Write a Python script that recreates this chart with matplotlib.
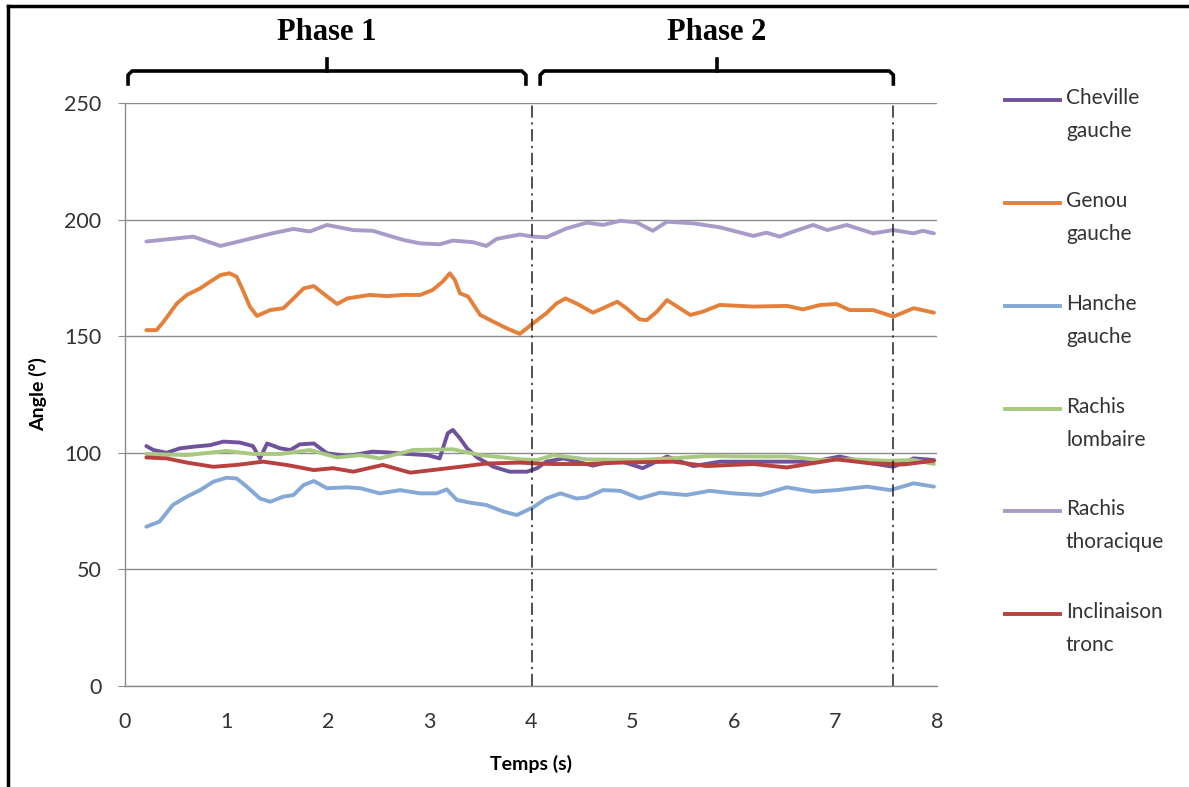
import matplotlib.pyplot as plt
from matplotlib.lines import Line2D
from matplotlib.transforms import blended_transform_factory

# --- data (time in s, angle in degrees) ---
t_cheville = [0.21, 0.28, 0.41, 0.54, 0.67, 0.84, 0.97, 1.13, 1.26, 1.33, 1.40, 1.53, 1.63, 1.72,
              1.86, 1.99, 2.19, 2.44, 2.58, 2.78, 2.98, 3.10, 3.18, 3.23, 3.30, 3.37, 3.47, 3.63,
              3.79, 3.96, 4.06, 4.15, 4.32, 4.61, 4.85, 5.10, 5.34, 5.60, 5.86, 6.19, 6.52, 6.78,
              7.04, 7.31, 7.57, 7.77, 7.97]
cheville = [102.9, 101.2, 100.0, 101.9, 102.6, 103.3, 104.8, 104.4, 102.9, 97.6, 104.0, 101.9, 101.2, 103.6,
            104.0, 99.8, 98.6, 100.5, 100.2, 99.5, 99.0, 97.6, 108.4, 109.8, 106.2, 101.9, 98.0, 94.0,
            91.9, 91.9, 93.4, 96.2, 97.6, 94.5, 96.9, 93.4, 98.4, 94.3, 96.2, 96.2, 96.2, 96.2,
            98.4, 95.8, 94.0, 97.6, 96.9]

t_genou = [0.21, 0.31, 0.38, 0.51, 0.61, 0.74, 0.84, 0.94, 1.03, 1.10, 1.16, 1.23, 1.30, 1.43, 1.56,
           1.66, 1.76, 1.86, 1.95, 2.09, 2.19, 2.41, 2.58, 2.74, 2.91, 3.03, 3.13, 3.20, 3.25, 3.30,
           3.38, 3.50, 3.63, 3.76, 3.89, 4.02, 4.15, 4.25, 4.34, 4.45, 4.61, 4.71, 4.85, 4.94, 5.07,
           5.14, 5.24, 5.34, 5.44, 5.57, 5.69, 5.86, 6.19, 6.52, 6.68, 6.85, 7.01, 7.14, 7.37, 7.57,
           7.77, 7.97]
genou = [152.6, 152.6, 156.2, 164.0, 167.7, 170.5, 173.4, 176.2, 177.0, 175.5, 169.8, 162.7, 158.7, 161.2, 162.0,
         166.2, 170.5, 171.5, 168.4, 163.8, 166.2, 167.7, 167.2, 167.7, 167.7, 169.8, 173.4, 177.0, 174.1, 168.4,
         167.0, 159.1, 156.2, 153.4, 151.0, 155.5, 159.8, 164.0, 166.2, 164.0, 160.1, 162.0, 164.8, 162.0, 157.2,
         156.9, 160.5, 165.5, 162.7, 159.1, 160.5, 163.4, 162.7, 163.0, 161.5, 163.4, 163.8, 161.2, 161.2, 158.4,
         162.0, 160.1]

t_hanche = [0.21, 0.34, 0.47, 0.61, 0.74, 0.87, 1.00, 1.10, 1.20, 1.33, 1.43, 1.56, 1.66, 1.76, 1.86,
            1.99, 2.19, 2.32, 2.51, 2.71, 2.91, 3.07, 3.17, 3.27, 3.40, 3.56, 3.73, 3.86, 4.02, 4.15,
            4.29, 4.45, 4.55, 4.71, 4.88, 5.07, 5.27, 5.53, 5.76, 5.99, 6.26, 6.52, 6.78, 7.01, 7.31,
            7.54, 7.77, 7.97]
hanche = [68.3, 70.5, 77.6, 81.2, 84.0, 87.6, 89.3, 89.0, 85.5, 80.4, 79.0, 81.2, 81.9, 86.2, 87.9,
          84.8, 85.2, 84.8, 82.6, 84.0, 82.6, 82.6, 84.3, 79.8, 78.6, 77.6, 74.8, 73.3, 76.6, 80.4,
          82.6, 80.4, 80.9, 84.0, 83.7, 80.4, 82.9, 81.9, 83.7, 82.6, 81.9, 85.2, 83.3, 84.0, 85.5,
          84.0, 86.9, 85.5]

t_lombaire = [0.21, 0.61, 1.00, 1.26, 1.53, 1.82, 2.09, 2.32, 2.51, 2.84, 3.23, 3.50, 3.73, 3.89, 4.06,
              4.22, 4.55, 5.04, 5.37, 5.73, 6.19, 6.52, 6.85, 7.17, 7.50, 7.77, 7.97]
lombaire = [99.5, 99.0, 100.8, 99.5, 99.5, 101.2, 98.0, 99.0, 97.6, 101.2, 101.5, 99.0, 98.0, 97.2, 96.9,
            99.0, 97.2, 96.9, 97.6, 98.6, 98.4, 98.4, 96.9, 97.2, 96.6, 96.9, 95.2]

t_thoracique = [0.21, 0.67, 0.94, 1.46, 1.66, 1.82, 1.99, 2.25, 2.44, 2.74, 2.91, 3.10, 3.23, 3.43, 3.56,
                3.66, 3.89, 4.02, 4.15, 4.35, 4.55, 4.71, 4.88, 5.04, 5.20, 5.34, 5.60, 5.86, 6.19, 6.32,
                6.45, 6.58, 6.78, 6.92, 7.11, 7.37, 7.57, 7.77, 7.86, 7.97]
thoracique = [190.6, 192.7, 188.7, 194.2, 196.0, 194.9, 197.7, 195.5, 195.2, 191.3, 189.8, 189.4, 191.0, 190.3, 188.7,
              191.7, 193.6, 192.7, 192.4, 196.2, 198.7, 197.7, 199.5, 198.8, 195.2, 199.1, 198.4, 196.7, 193.0, 194.4,
              192.7, 194.8, 197.7, 195.5, 197.7, 194.1, 195.5, 194.1, 195.2, 194.1]

t_tronc = [0.21, 0.41, 0.61, 0.87, 1.10, 1.36, 1.59, 1.86, 2.05, 2.25, 2.54, 2.81, 3.03, 3.30, 3.56,
           3.89, 4.06, 4.22, 4.55, 4.88, 5.40, 5.73, 6.19, 6.52, 7.01, 7.34, 7.67, 7.97]
tronc = [98.0, 97.6, 95.8, 94.0, 94.8, 96.2, 94.8, 92.6, 93.4, 91.9, 94.8, 91.5, 92.6, 94.0, 95.4,
         95.8, 95.4, 95.2, 95.2, 95.8, 96.2, 94.3, 95.2, 93.7, 97.2, 95.5, 95.0, 96.6]

series = [
    ("Cheville\ngauche", t_cheville, cheville, '#70529c'),
    ("Genou\ngauche", t_genou, genou, '#e5803a'),
    ("Hanche\ngauche", t_hanche, hanche, '#86a8d6'),
    ("Rachis\nlombaire", t_lombaire, lombaire, '#a9c981'),
    ("Rachis\nthoracique", t_thoracique, thoracique, '#a99bc8'),
    ("Inclinaison\ntronc", t_tronc, tronc, '#b8413f'),
]

phase_limits = [(0.03, 3.95), (4.09, 7.57)]
phase_names = ["Phase 1", "Phase 2"]
phase_lines = [4.01, 7.57]

plt.rcParams['font.family'] = ['Lato', 'DejaVu Sans']

fig = plt.figure(figsize=(11.89, 7.87), dpi=100)
ax = fig.add_axes([125 / 1189, 1 - 686 / 787, (937 - 125) / 1189, (686 - 103) / 787])

for label, t, v, c in series:
    ax.plot(t, v, color=c, linewidth=2.8, solid_capstyle='round', label=label)

for x in phase_lines:
    ax.axvline(x, color='#222222', linewidth=1.1, linestyle=(0, (8, 3, 1.5, 3)))

ax.set_xlim(0, 8)
ax.set_ylim(0, 250)
ax.set_xticks(range(0, 9))
ax.set_yticks(range(0, 251, 50))
ax.yaxis.grid(True, color='#8c8c8c', linewidth=1.0)
ax.set_axisbelow(True)
for s in ['top', 'right']:
    ax.spines[s].set_visible(False)
for s in ['left', 'bottom']:
    ax.spines[s].set_color('#8c8c8c')
    ax.spines[s].set_linewidth(1.0)
ax.tick_params(axis='x', length=0, pad=19, labelsize=15.5, labelcolor='#333333')
ax.tick_params(axis='y', length=5, color='#8c8c8c', pad=12, labelsize=15.5, labelcolor='#333333')
ax.set_xlabel("Temps (s)", fontsize=14, fontweight='bold', labelpad=16)
ax.set_ylabel("Angle (°)", fontsize=14, fontweight='bold', labelpad=12)

# phase braces above the plot
trans = blended_transform_factory(ax.transData, fig.transFigure)
def fy(px):
    return 1 - px / 787

for (x0, x1), name in zip(phase_limits, phase_names):
    xc = (x0 + x1) / 2
    d = 0.04
    ax.plot([x0, x0, x0 + d, x1 - d, x1, x1],
            [fy(84), fy(75), fy(71), fy(71), fy(75), fy(84)],
            transform=trans, clip_on=False, color='black', linewidth=2.6,
            solid_joinstyle='round')
    ax.plot([xc, xc], [fy(71), fy(59)], transform=trans, clip_on=False,
            color='black', linewidth=2.6)
    ax.text(xc, fy(33), name, transform=trans, ha='center', va='center',
            fontsize=22, fontweight='bold', family='Liberation Serif')

# legend drawn to the right
leg_y = [100, 203, 306, 409, 511, 614]
for (label, t, v, c), y in zip(series, leg_y):
    fig.add_artist(Line2D([1005 / 1189, 1060 / 1189], [fy(y), fy(y)], color=c, linewidth=2.8))
    fig.text(1066 / 1189, fy(y - 12), label, ha='left', va='top', fontsize=15,
             color='#333333', linespacing=1.8)

# picture frame (top and left edges)
fig.add_artist(Line2D([8 / 1189, 8 / 1189], [0, fy(6)], color='black', linewidth=2.5))
fig.add_artist(Line2D([8 / 1189, 1], [fy(6), fy(6)], color='black', linewidth=2.5))

fig.savefig('out.png', dpi=100)
